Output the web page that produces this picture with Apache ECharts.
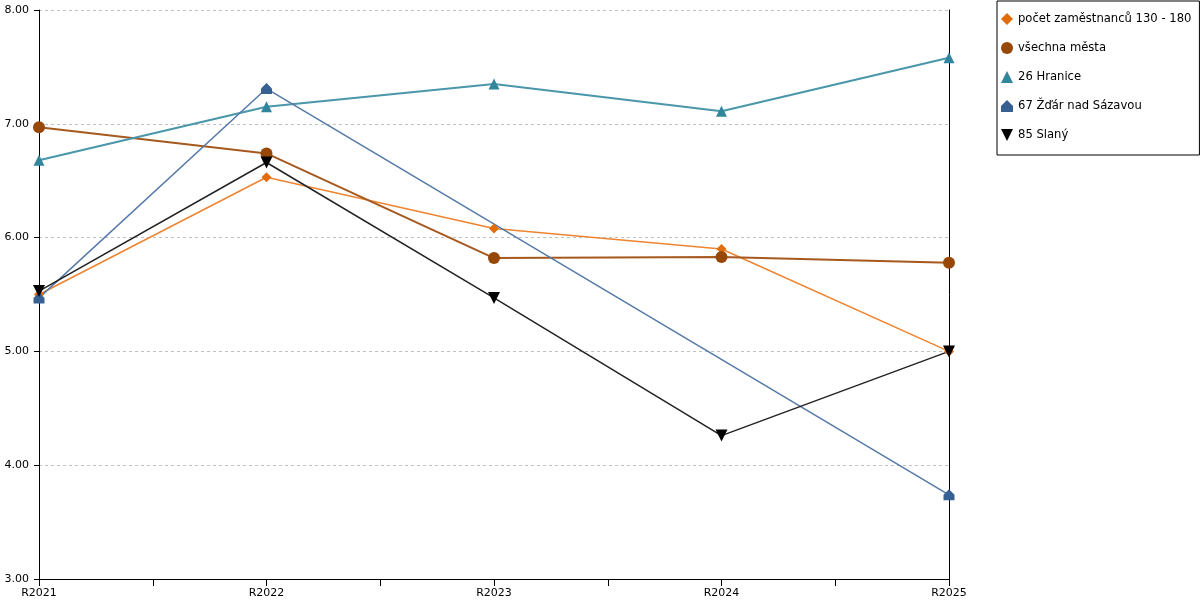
<!DOCTYPE html>
<html>
<head>
<meta charset="utf-8">
<script src="https://cdn.jsdelivr.net/npm/echarts@6/dist/echarts.min.js"></script>
<style>html,body{margin:0;padding:0;background:#fff}#c{width:1200px;height:600px}</style>
</head>
<body>
<div id="c"></div>
<script>
var categories = ['R2021', 'R2022', 'R2023', 'R2024', 'R2025'];
var seriesNames = ['počet zaměstnanců 130 - 180', 'všechna města', '26 Hranice', '67 Žďár nad Sázavou', '85 Slaný'];
var pocetZamestnancu = [5.50, 6.53, 6.08, 5.90, 5.00];
var vsechnaMesta = [6.97, 6.74, 5.82, 5.83, 5.78];
var hranice = [6.68, 7.15, 7.35, 7.11, 7.58];
var zdar = [5.47, 7.31, null, null, 3.74];
var slany = [5.53, 6.66, 5.47, 4.26, 5.00];
var yTicks = [3, 4, 5, 6, 7, 8];

var colors = ['#e36c0a', '#974706', '#31859c', '#376092', '#000000'];
var lineColors = ['#ee8430', '#a6591e', '#4a97aa', '#5579a8', '#222222'];
var symbols = [
  'diamond',
  'circle',
  'triangle',
  'path://M5,0 L10,5 L10,10 L0,10 L0,5 Z',
  'path://M0,0 L10,0 L5,10 Z'
];
var widths = [1.5, 2, 2.2, 1.5, 1.5];
var sizes = [10, 12, 11, 11, 12];
var dataSets = [pocetZamestnancu, vsechnaMesta, hranice, zdar, slany];

function toPairs(arr) {
  return arr.map(function (v, i) { return [i, v]; });
}

var chart = echarts.init(document.getElementById('c'), null, {renderer: 'canvas'});
var font = 'DejaVu Sans';
var option = {
  animation: false,
  backgroundColor: '#fff',
  textStyle: {fontFamily: font},
  grid: {left: 39, right: 251, top: 10, bottom: 21, containLabel: false},
  legend: {
    orient: 'vertical',
    left: 997, top: 1,
    padding: [12, 8, 14, 4],
    itemGap: 17,
    itemWidth: 12, itemHeight: 12,
    borderColor: '#000', borderWidth: 1,
    textStyle: {fontFamily: font, fontSize: 11.6, color: '#000'},
    data: seriesNames.map(function (n, i) { return {name: n, icon: symbols[i], itemStyle: {color: colors[i]}}; })
  },
  xAxis: {
    type: 'value',
    min: 0, max: categories.length - 1, interval: 0.5,
    axisLine: {show: true, lineStyle: {color: '#000', width: 1}},
    axisTick: {show: true, length: 7, lineStyle: {color: '#000'}},
    splitLine: {show: false},
    axisLabel: {
      fontFamily: font, fontSize: 11, color: '#000', margin: 9,
      showMinLabel: true, showMaxLabel: true,
      formatter: function (v) { return Number.isInteger(v) ? categories[v] : ''; }
    }
  },
  yAxis: [{
    type: 'value',
    min: yTicks[0], max: yTicks[yTicks.length - 1], interval: 1,
    axisLine: {show: true, lineStyle: {color: '#000', width: 1}},
    axisTick: {show: true, length: 5, lineStyle: {color: '#000'}},
    splitLine: {show: true, lineStyle: {color: '#c0c0c0', type: [3, 3], width: 1}},
    axisLabel: {fontFamily: font, fontSize: 11, color: '#000', margin: 10,
      formatter: function (v) { return v.toFixed(2); }}
  }, {
    type: 'value', position: 'right',
    min: yTicks[0], max: yTicks[yTicks.length - 1], interval: 1,
    axisLine: {show: true, onZero: false, lineStyle: {color: '#000', width: 1}},
    axisTick: {show: false}, axisLabel: {show: false}, splitLine: {show: false}
  }],
  series: seriesNames.map(function (n, i) {
    return {
      name: n, type: 'line', yAxisIndex: 0,
      data: toPairs(dataSets[i]),
      connectNulls: true,
      symbol: symbols[i], symbolSize: sizes[i], showSymbol: true,
      itemStyle: {color: colors[i]},
      lineStyle: {color: lineColors[i], width: widths[i]},
      emphasis: {disabled: true}
    };
  })
};
chart.setOption(option);
</script>
</body>
</html>
